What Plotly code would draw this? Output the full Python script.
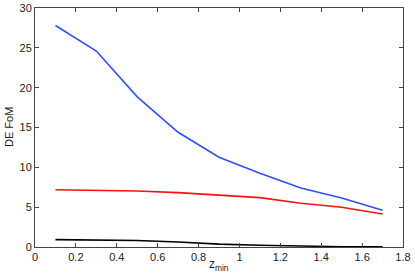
import plotly.graph_objects as go

z_min = [0.1, 0.3, 0.5, 0.7, 0.9, 1.1, 1.3, 1.5, 1.7]
fom_blue = [27.8, 24.6, 18.85, 14.4, 11.27, 9.25, 7.4, 6.15, 4.6]
fom_red = [7.19, 7.1, 7.03, 6.82, 6.55, 6.2, 5.5, 5.0, 4.15]
fom_black = [0.92, 0.87, 0.82, 0.62, 0.36, 0.22, 0.1, 0.04, 0.02]

x_ticks = [0, 0.2, 0.4, 0.6, 0.8, 1, 1.2, 1.4, 1.6, 1.8]
x_tick_labels = ["0", "0.2", "0.4", "0.6", "0.8", "1", "1.2", "1.4", "1.6", "1.8"]
y_ticks = [0, 5, 10, 15, 20, 25, 30]

fig = go.Figure()
fig.add_trace(go.Scatter(x=z_min, y=fom_blue, mode="lines",
                         line=dict(color="#3050ff", width=1.6)))
fig.add_trace(go.Scatter(x=z_min, y=fom_red, mode="lines",
                         line=dict(color="#ff1010", width=1.6)))
fig.add_trace(go.Scatter(x=z_min, y=fom_black, mode="lines",
                         line=dict(color="#000000", width=1.6)))

axis_common = dict(showgrid=False, zeroline=False, showline=True, linecolor="#444444",
                   linewidth=1, mirror="ticks", ticks="inside", ticklen=4,
                   tickcolor="#444444", tickwidth=1, automargin=False)

fig.update_xaxes(range=[0, 1.8], tickvals=x_ticks, ticktext=x_tick_labels, **axis_common)
fig.update_yaxes(range=[0, 30], tickvals=y_ticks, **axis_common)

fig.add_annotation(text="z<sub>min</sub>", xref="paper", yref="paper",
                   x=0.5, y=-0.075, xanchor="center", yanchor="middle",
                   showarrow=False, font=dict(size=12, color="#222222"))
fig.add_annotation(text="DE FoM", xref="paper", yref="paper",
                   x=-0.072, y=0.5, xanchor="center", yanchor="middle",
                   textangle=-90, showarrow=False, font=dict(size=11, color="#222222"))

fig.update_layout(width=415, height=277, showlegend=False, template="none",
                  margin=dict(l=34.5, r=11.5, t=7.5, b=29.5, autoexpand=False),
                  plot_bgcolor="white", paper_bgcolor="white",
                  font=dict(family="Liberation Sans, Arial, Helvetica", size=11, color="#222222"))

fig.write_html("out.html", config={"displayModeBar": False},
               post_script="document.body.style.margin='0px';document.body.style.overflow='hidden';")
